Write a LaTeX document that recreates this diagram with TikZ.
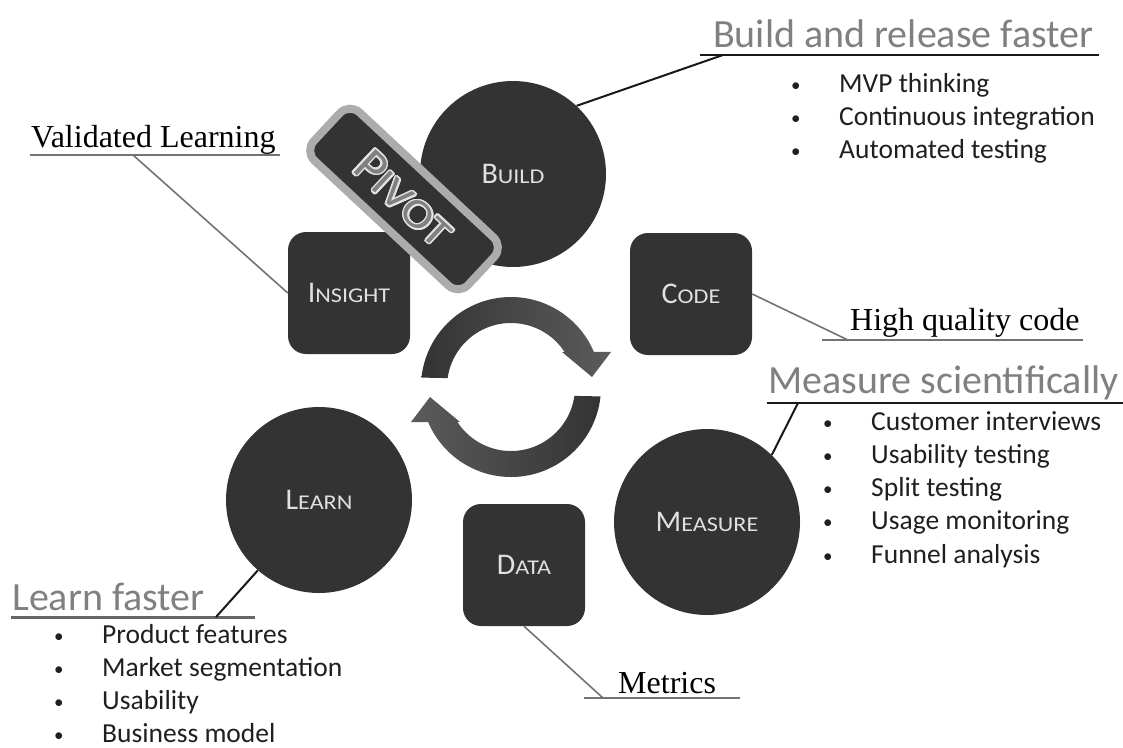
\documentclass[tikz,border=0pt]{standalone}
\usepackage{fontspec}
\setmainfont{Liberation Serif}
\newfontfamily\calibri{Carlito}
\usepackage{contour}
\contourlength{1.6pt}
\usetikzlibrary{calc}
\definecolor{NodeClr}{rgb}{0.2,0.2,0.2}
\definecolor{TitleClr}{rgb}{0.5,0.5,0.5}
\definecolor{LineClr}{rgb}{0.45,0.45,0.45}
\definecolor{ArrowDark}{rgb}{0.2,0.2,0.2}
\definecolor{ArrowLight}{rgb}{0.36,0.36,0.36}
\newcommand{\fakesc}[4]{{\fontsize{#1}{#1}\selectfont #3}{\fontsize{#2}{#2}\selectfont\addfontfeature{FakeStretch=1.15}#4}}
\newcommand{\itemdot}{\makebox[48pt][l]{\raisebox{1pt}{\fontsize{19}{19}\selectfont •}}}

\begin{document}
\begin{tikzpicture}[x=1pt,y=-1pt,
  stage/.style={circle,fill=NodeClr,minimum size=186pt,inner sep=0pt,text=white!88!black,font=\calibri},
  tile/.style={rectangle,rounded corners=18pt,fill=NodeClr,minimum size=122pt,inner sep=0pt,text=white!88!black,font=\calibri},
  pivotbox/.style={rectangle,rounded corners=14pt,draw=gray!65,line width=8pt,fill=NodeClr,minimum width=211pt,minimum height=66pt,inner sep=0pt,text=gray,font=\calibri,rotate=-43},
  heading/.style={text=TitleClr,font=\calibri\fontsize{40}{48}\selectfont,inner sep=0pt,anchor=base west},
  note/.style={font=\fontsize{32}{38}\selectfont,inner sep=0pt,anchor=base west},
  item/.style={font=\calibri\fontsize{27.5}{33}\selectfont,text=black!88,inner sep=0pt,anchor=base west},
  darkline/.style={line width=2pt,black!90},
  greyline/.style={line width=1.6pt,LineClr}]
\useasboundingbox (0,0) rectangle (1123,747);

\node[stage] (build)   at (513,174) {\fakesc{30}{21}{B}{UILD}};
\node[stage] (measure) at (707,522) {\fakesc{30}{21}{M}{EASURE}};
\node[stage] (learn)   at (319,500) {\fakesc{30}{21}{L}{EARN}};
\node[tile] (insight) at (349,293) {\fakesc{30}{21}{I}{NSIGHT}};
\node[tile] (code)    at (691,294) {\fakesc{30}{21}{C}{ODE}};
\node[tile] (data)    at (524,565) {\fakesc{30}{21}{D}{ATA}};

% cycle arrows
\coordinate (cyc) at (511,387);
\shade[left color=ArrowDark,right color=ArrowLight]
  ($(cyc)+(186:90)$) arc[start angle=186,end angle=337,radius=90]
  -- (611,352) -- (592,377) -- (562,352)
  -- ($(cyc)+(327:64)$) arc[start angle=327,end angle=188,radius=64] -- cycle;
\shade[left color=ArrowLight,right color=ArrowDark]
  ($(cyc)+(6:90)$) arc[start angle=6,end angle=157,radius=90]
  -- (411,422) -- (430,397) -- (460,422)
  -- ($(cyc)+(147:64)$) arc[start angle=147,end angle=8,radius=64] -- cycle;

\node[pivotbox] (pivot) at (404,199) {\contour{white!78!gray}{\fakesc{50}{41}{P}{IVOT}}};

\node[heading] (buildT)   at (713,47)  {Build and release faster};
\node[heading] (measureT) at (768,393) {Measure scientifically};
\node[heading] (learnT)   at (12,610)  {Learn faster};
\node[note] (insightT) at (31,147)  {Validated Learning};
\node[note] (codeT)    at (850,330) {High quality code};
\node[note] (dataT)    at (618,693) {Metrics};

\coordinate (buildK)   at (723,55);
\coordinate (measureK) at (798,403);
\coordinate (learnK)   at (216,617);
\coordinate (insightK) at (133,155);
\coordinate (codeK)    at (848,340);
\coordinate (dataK)    at (603,698);

\draw[darkline] (700,55) -- (1099,55);
\draw[darkline] (767,403) -- (1123,403);
\draw[line width=3pt,black!60] (11,617) -- (255,617);
\draw[line width=2.4pt,LineClr] (30,155) -- (280,155);
\draw[greyline] (822,340) -- (1083,340);
\draw[greyline] (584,698) -- (740,698);

\draw[darkline] (build.47) -- (buildK);
\draw[darkline] (measure.46) -- (measureK);
\draw[darkline] (learn.229) -- (learnK);
\draw[greyline] (insight.west) -- (insightK);
\draw[greyline] (code.east) -- (codeK);
\draw[greyline] (data.south) -- (dataK);

\foreach \txt [count=\i] in {MVP thinking,Continuous integration,Automated testing}
  \node[item] (build-\i) at (791,59.5+33*\i) {\itemdot\txt};
\foreach \txt [count=\i] in {Customer interviews,Usability testing,Split testing,Usage monitoring,Funnel analysis}
  \node[item] (measure-\i) at (823,396.75+33.25*\i) {\itemdot\txt};
\foreach \txt [count=\i] in {Product features,Market segmentation,Usability,Business model}
  \node[item] (learn-\i) at (54,610+33*\i) {\itemdot\txt};
\end{tikzpicture}
\end{document}
